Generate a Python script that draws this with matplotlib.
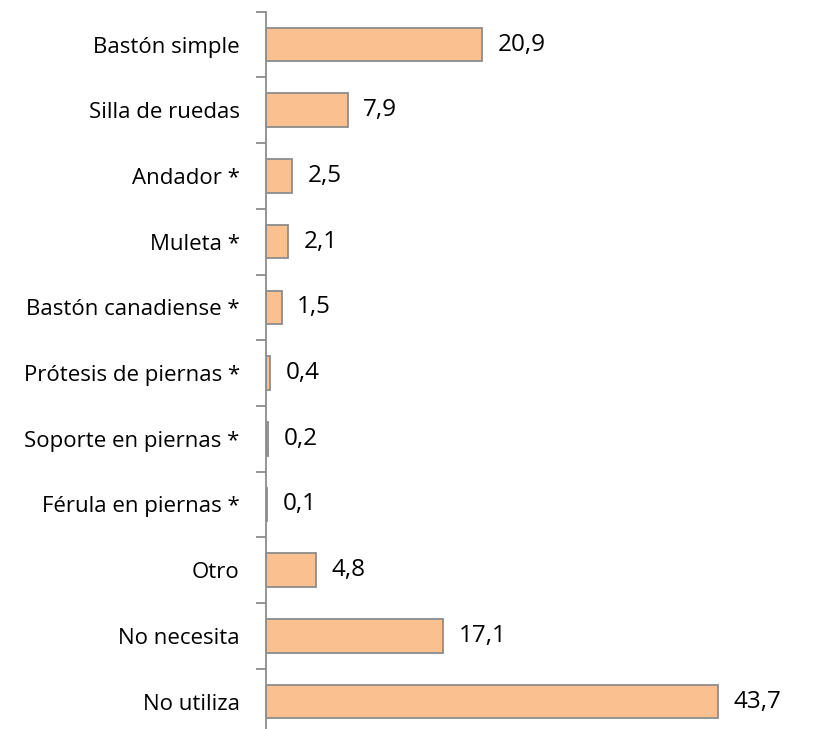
import matplotlib
matplotlib.use("Agg")
import matplotlib.pyplot as plt

categories = ["Bastón simple", "Silla de ruedas", "Andador *", "Muleta *",
              "Bastón canadiense *", "Prótesis de piernas *", "Soporte en piernas *",
              "Férula en piernas *", "Otro", "No necesita", "No utiliza"]
values = [20.9, 7.9, 2.5, 2.1, 1.5, 0.4, 0.2, 0.1, 4.8, 17.1, 43.7]
value_labels = ["20,9", "7,9", "2,5", "2,1", "1,5", "0,4", "0,2", "0,1", "4,8", "17,1", "43,7"]

plt.rcParams['font.family'] = ['Open Sans', 'DejaVu Sans']

fig = plt.figure(figsize=(8.24, 7.29), dpi=100)
ax = fig.add_axes([0.323, -0.0075, 0.677, 0.9915])

n = len(categories)
pos = list(range(n))
ax.barh(pos, values, height=0.51, color='#FAC090', edgecolor='#8C8C8C', linewidth=1.3)
ax.set_ylim(n - 0.5, -0.5)
ax.set_xlim(0, 54)

for y, v, lab in zip(pos, values, value_labels):
    ax.text(v + 1.5, y, lab, va='center', ha='left', fontsize=17.5, color='black')

# category labels centred on bars, ticks at the boundaries
ax.set_yticks(pos)
ax.set_yticklabels(categories, fontsize=16)
ax.tick_params(axis='y', which='major', length=0, pad=19)
ax.set_yticks([i - 0.5 for i in range(n + 1)], minor=True)
ax.tick_params(axis='y', which='minor', length=7, width=1.3, color='#8C8C8C', direction='out')

ax.set_xticks([])
for side in ['top', 'right', 'bottom']:
    ax.spines[side].set_visible(False)
ax.spines['left'].set_color('#8C8C8C')
ax.spines['left'].set_linewidth(1.3)

fig.savefig("out.png", dpi=100)
